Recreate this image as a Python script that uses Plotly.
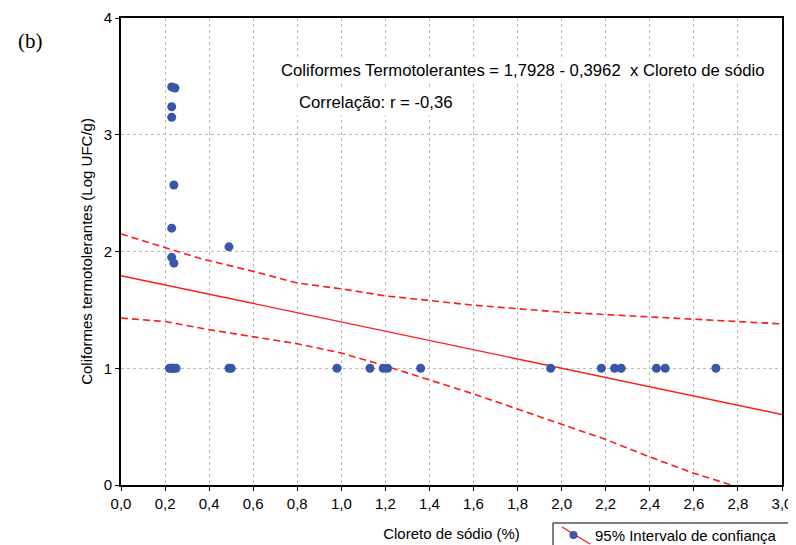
import plotly.graph_objects as go

# Observed data points (Cloreto de sódio %, Log UFC/g)
pts_x = [0.23, 0.245, 0.23, 0.23, 0.24, 0.23, 0.49, 0.23, 0.24,
         0.22, 0.23, 0.24, 0.25, 0.235, 0.49, 0.50, 0.98, 1.13, 1.19, 1.21, 1.36,
         1.95, 2.18, 2.24, 2.27, 2.43, 2.47, 2.70]
pts_y = [3.41, 3.40, 3.24, 3.15, 2.57, 2.20, 2.04, 1.95, 1.90,
         1.0, 1.0, 1.0, 1.0, 1.0, 1.0, 1.0, 1.0, 1.0, 1.0, 1.0, 1.0,
         1.0, 1.0, 1.0, 1.0, 1.0, 1.0, 1.0]

# Regression line endpoints
reg_x = [0.0, 3.0]
reg_y = [1.7928, 0.6042]

# 95% confidence band
up_x = [0.0, 0.2, 0.36, 0.6, 0.8, 1.0, 1.2, 1.4, 1.6, 1.8, 2.0, 2.2, 2.4, 2.6, 2.8, 3.0]
up_y = [2.15, 2.03, 1.94, 1.83, 1.73, 1.68, 1.62, 1.58, 1.54, 1.51, 1.48, 1.46, 1.44, 1.42, 1.40, 1.38]
lo_x = [0.0, 0.2, 0.4, 0.6, 0.8, 1.0, 1.2, 1.4, 1.6, 1.8, 2.0, 2.2, 2.4, 2.6, 2.77]
lo_y = [1.43, 1.40, 1.33, 1.27, 1.21, 1.13, 1.02, 0.90, 0.78, 0.65, 0.52, 0.39, 0.24, 0.10, 0.0]

x_ticks = [0.0, 0.2, 0.4, 0.6, 0.8, 1.0, 1.2, 1.4, 1.6, 1.8, 2.0, 2.2, 2.4, 2.6, 2.8, 3.0]
y_ticks = [0, 1, 2, 3, 4]

legend_label = "95% Intervalo de confiança"

RED = "#ff1a1a"
BLUE = "#3a56a8"
FONT = "Liberation Sans, Arial, sans-serif"

# page body adds an 8px offset; size the figure so it fills the 796x545 window
OFF = 8
W, H = 796 - OFF, 545 - OFF
# plot area in window pixels
SL, SR, ST, SB = 121, 782, 18, 485
L, R, T, B = SL - OFF, SR - OFF, ST - OFF, SB - OFF
PW, PH = R - L, B - T

def px(xs):
    return (xs - SL) / PW

def py(ys):
    return (SB - ys) / PH

fig = go.Figure()
fig.add_trace(go.Scatter(x=up_x, y=up_y, mode="lines", line=dict(color=RED, width=1.6, dash="7px,4px"),
                         showlegend=False, hoverinfo="skip"))
fig.add_trace(go.Scatter(x=lo_x, y=lo_y, mode="lines", line=dict(color=RED, width=1.6, dash="7px,4px"),
                         showlegend=False, hoverinfo="skip"))
fig.add_trace(go.Scatter(x=reg_x, y=reg_y, mode="lines", line=dict(color=RED, width=1.4),
                         showlegend=False, hoverinfo="skip"))
fig.add_trace(go.Scatter(x=pts_x, y=pts_y, mode="markers",
                         marker=dict(color=BLUE, size=9, line=dict(width=0)),
                         showlegend=False))

annots = [
    ("Coliformes Termotolerantes = 1,7928 - 0,3962  x Cloreto de sódio", 277, 71),
    ("Correlação: r = -0,36", 295, 102),
]
for text, xs, ys in annots:
    fig.add_annotation(text=text, x=px(xs), y=py(ys), xref="paper", yref="paper",
                       xanchor="left", yanchor="middle", showarrow=False,
                       font=dict(family=FONT, size=16.7, color="black"),
                       bgcolor="white", borderpad=3)
fig.add_annotation(text="(b)", x=px(16), y=py(41), xref="paper", yref="paper", showarrow=False,
                   font=dict(family="Liberation Serif, Times New Roman, serif", size=21, color="black"),
                   xanchor="left", yanchor="middle")

# Manual legend box (decoration below the plot)
fig.add_shape(type="rect", xref="paper", yref="paper", x0=px(553), x1=px(805), y0=py(523), y1=py(560),
              line=dict(color="black", width=1), fillcolor="white", layer="above")
fig.add_shape(type="line", xref="paper", yref="paper", x0=px(562), y0=py(527), x1=px(590), y1=py(544),
              line=dict(color=RED, width=1.4), layer="above")
fig.add_shape(type="circle", xref="paper", yref="paper", x0=px(569.5), x1=px(577.5), y0=py(531), y1=py(539),
              line=dict(width=0), fillcolor=BLUE, layer="above")
fig.add_annotation(text=legend_label, x=px(593), y=py(535), xref="paper", yref="paper",
                   xanchor="left", yanchor="middle", showarrow=False,
                   font=dict(family=FONT, size=15, color="black"))

fig.update_layout(
    width=W, height=H,
    margin=dict(l=L, r=W - R, t=T, b=H - B),
    paper_bgcolor="white", plot_bgcolor="white",
    separators=",.",
    font=dict(family=FONT, size=15, color="black"),
    showlegend=False,
)
fig.update_xaxes(range=[0, 3], tickvals=x_ticks, tickformat=".1f", automargin=False,
                 showgrid=True, gridcolor="#bbbbbb", griddash="dot", gridwidth=1,
                 showline=True, linecolor="black", linewidth=1.6, mirror=True,
                 ticks="outside", ticklen=4, tickcolor="black", zeroline=False,
                 tickfont=dict(size=15),
                 title=dict(text="Cloreto de sódio (%)", standoff=18, font=dict(size=15)))
fig.update_yaxes(range=[0, 4], tickvals=y_ticks, automargin=False,
                 showgrid=True, gridcolor="#bbbbbb", griddash="dot", gridwidth=1,
                 showline=True, linecolor="black", linewidth=1.6, mirror=True,
                 ticks="outside", ticklen=4, tickcolor="black", zeroline=False,
                 tickfont=dict(size=15),
                 title=dict(text="Coliformes termotolerantes (Log UFC/g)", standoff=8, font=dict(size=15)))

fig.write_html("out.html")
